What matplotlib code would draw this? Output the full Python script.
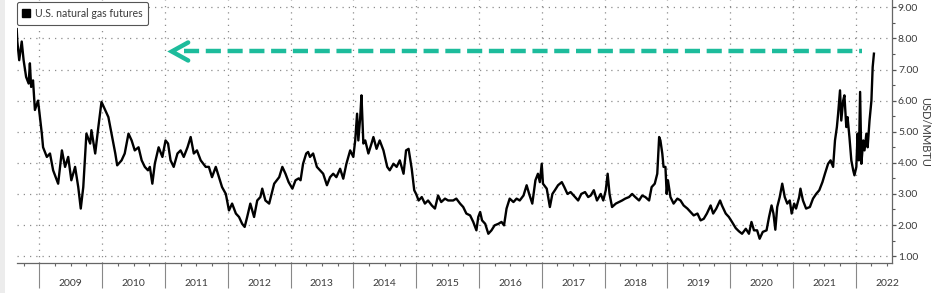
import matplotlib
matplotlib.use('Agg')
import matplotlib.pyplot as plt
import matplotlib.transforms as mtransforms
from matplotlib.lines import Line2D
from matplotlib.patches import Rectangle
from matplotlib.ticker import MultipleLocator, FixedLocator, FormatStrFormatter, NullFormatter

# ---- data (fractional year, USD/MMBtu) ----
dates = [
    2008.64, 2008.65, 2008.68, 2008.72, 2008.75, 2008.79, 2008.83, 2008.85, 2008.87, 2008.90,
    2008.93, 2008.98, 2009.01, 2009.04, 2009.06, 2009.12, 2009.17, 2009.22, 2009.30, 2009.36,
    2009.41, 2009.46, 2009.51, 2009.57, 2009.62, 2009.66, 2009.70, 2009.75, 2009.81, 2009.83,
    2009.89, 2009.94, 2009.99, 2010.05, 2010.10, 2010.15, 2010.21, 2010.24, 2010.31, 2010.36,
    2010.42, 2010.47, 2010.52, 2010.58, 2010.63, 2010.68, 2010.73, 2010.76, 2010.80, 2010.84,
    2010.90, 2010.96, 2011.01, 2011.05, 2011.09, 2011.14, 2011.20, 2011.25, 2011.30, 2011.36,
    2011.41, 2011.46, 2011.51, 2011.57, 2011.65, 2011.70, 2011.75, 2011.81, 2011.86, 2011.91,
    2011.97, 2012.02, 2012.07, 2012.13, 2012.18, 2012.23, 2012.27, 2012.31, 2012.36, 2012.42,
    2012.47, 2012.52, 2012.55, 2012.60, 2012.66, 2012.74, 2012.82, 2012.87, 2012.92, 2012.97,
    2013.03, 2013.08, 2013.13, 2013.16, 2013.20, 2013.25, 2013.28, 2013.31, 2013.36, 2013.42,
    2013.47, 2013.52, 2013.58, 2013.63, 2013.68, 2013.73, 2013.79, 2013.84, 2013.89, 2013.95,
    2014.00, 2014.03, 2014.06, 2014.08, 2014.11, 2014.13, 2014.16, 2014.19, 2014.24, 2014.29,
    2014.32, 2014.37, 2014.42, 2014.48, 2014.54, 2014.58, 2014.64, 2014.69, 2014.74, 2014.80,
    2014.84, 2014.88, 2014.90, 2014.93, 2014.97, 2015.00, 2015.04, 2015.09, 2015.14, 2015.19,
    2015.25, 2015.30, 2015.35, 2015.40, 2015.46, 2015.51, 2015.59, 2015.64, 2015.70, 2015.75,
    2015.80, 2015.86, 2015.91, 2015.96, 2015.99, 2016.02, 2016.05, 2016.10, 2016.15, 2016.20,
    2016.25, 2016.31, 2016.36, 2016.40, 2016.44, 2016.49, 2016.55, 2016.60, 2016.65, 2016.71,
    2016.76, 2016.80, 2016.85, 2016.90, 2016.94, 2016.97, 2017.00, 2017.02, 2017.08, 2017.13,
    2017.17, 2017.21, 2017.26, 2017.32, 2017.36, 2017.41, 2017.46, 2017.53, 2017.58, 2017.63,
    2017.69, 2017.74, 2017.78, 2017.83, 2017.88, 2017.94, 2017.98, 2018.02, 2018.05, 2018.08,
    2018.12, 2018.18, 2018.23, 2018.28, 2018.33, 2018.39, 2018.44, 2018.49, 2018.55, 2018.60,
    2018.65, 2018.71, 2018.75, 2018.80, 2018.84, 2018.87, 2018.89, 2018.92, 2018.94, 2018.97,
    2018.99, 2019.01, 2019.05, 2019.10, 2019.16, 2019.21, 2019.26, 2019.32, 2019.37, 2019.42,
    2019.48, 2019.53, 2019.58, 2019.63, 2019.69, 2019.73, 2019.78, 2019.84, 2019.87, 2019.93,
    2019.98, 2020.03, 2020.09, 2020.14, 2020.19, 2020.25, 2020.30, 2020.34, 2020.38, 2020.43,
    2020.47, 2020.52, 2020.58, 2020.62, 2020.66, 2020.69, 2020.72, 2020.75, 2020.79, 2020.83,
    2020.87, 2020.91, 2020.95, 2020.98, 2021.02, 2021.05, 2021.10, 2021.12, 2021.16, 2021.21,
    2021.27, 2021.32, 2021.37, 2021.42, 2021.47, 2021.51, 2021.56, 2021.60, 2021.64, 2021.67,
    2021.70, 2021.72, 2021.75, 2021.77, 2021.80, 2021.82, 2021.85, 2021.87, 2021.90, 2021.93,
    2021.96, 2021.98, 2022.01, 2022.03, 2022.05, 2022.07, 2022.09, 2022.12, 2022.14, 2022.17,
    2022.19, 2022.22, 2022.25, 2022.27, 2022.29,
]
prices = [
    8.30, 7.90, 7.30, 7.90, 7.30, 6.76, 6.55, 7.20, 6.44, 6.65,
    5.70, 6.00, 5.47, 4.94, 4.50, 4.19, 4.30, 3.76, 3.33, 4.40,
    3.87, 4.19, 3.44, 3.87, 3.22, 2.53, 3.22, 4.94, 4.62, 5.05,
    4.30, 5.15, 5.96, 5.69, 5.47, 4.94, 4.30, 3.92, 4.08, 4.30,
    4.94, 4.72, 4.40, 4.50, 4.08, 3.87, 3.76, 3.87, 3.33, 3.98,
    4.50, 4.19, 4.72, 4.62, 4.08, 3.87, 4.30, 4.40, 4.19, 4.50,
    4.83, 4.30, 4.40, 4.08, 3.87, 3.87, 3.54, 3.87, 3.54, 3.22,
    3.00, 2.47, 2.69, 2.37, 2.26, 2.04, 1.94, 2.26, 2.69, 2.26,
    2.79, 2.90, 3.17, 2.79, 2.69, 3.33, 3.54, 3.87, 3.65, 3.38,
    3.17, 3.44, 3.50, 3.44, 3.97, 4.30, 4.35, 4.19, 4.30, 3.87,
    3.76, 3.65, 3.28, 3.54, 3.65, 3.54, 3.81, 3.49, 3.97, 4.40,
    4.19, 4.72, 5.58, 4.72, 5.47, 6.17, 4.62, 4.72, 4.30, 4.62,
    4.83, 4.45, 4.72, 4.40, 3.87, 3.76, 3.97, 3.87, 4.08, 3.65,
    4.40, 4.45, 4.19, 3.81, 3.12, 3.00, 2.79, 2.90, 2.69, 2.79,
    2.63, 2.53, 2.95, 2.74, 2.85, 2.79, 2.79, 2.85, 2.69, 2.58,
    2.37, 2.31, 2.10, 1.83, 2.26, 2.42, 2.15, 2.04, 1.72, 1.83,
    1.99, 2.04, 2.10, 1.99, 2.53, 2.85, 2.74, 2.85, 2.79, 2.95,
    3.28, 3.00, 2.69, 3.44, 3.65, 3.38, 3.97, 3.33, 3.17, 2.58,
    3.00, 3.12, 3.28, 3.38, 3.22, 3.00, 3.06, 2.90, 2.79, 3.00,
    3.06, 2.90, 2.95, 3.12, 2.79, 3.00, 2.79, 3.12, 3.65, 3.00,
    2.58, 2.69, 2.74, 2.79, 2.85, 2.90, 3.00, 2.90, 2.79, 2.95,
    2.90, 2.79, 3.22, 3.33, 3.65, 4.83, 4.72, 4.30, 3.87, 3.87,
    3.00, 3.44, 2.90, 2.69, 2.85, 2.79, 2.63, 2.53, 2.42, 2.31,
    2.37, 2.15, 2.20, 2.37, 2.63, 2.37, 2.53, 2.79, 2.63, 2.37,
    2.26, 2.10, 1.90, 1.80, 1.72, 1.88, 1.72, 2.10, 1.83, 1.83,
    1.56, 1.78, 1.83, 2.26, 2.63, 2.37, 1.85, 2.58, 2.90, 3.33,
    2.90, 2.69, 2.79, 2.37, 2.69, 2.53, 2.90, 3.17, 2.79, 2.53,
    2.58, 2.85, 3.00, 3.12, 3.38, 3.65, 3.97, 4.08, 3.87, 4.72,
    5.15, 5.58, 6.33, 5.36, 6.00, 6.17, 5.15, 5.47, 4.83, 4.08,
    3.76, 3.60, 3.87, 4.94, 4.08, 6.28, 3.97, 4.72, 4.40, 4.94,
    4.50, 5.36, 6.00, 7.08, 7.51,
]
assert len(dates) == len(prices)

year_labels = [str(y) for y in range(2009, 2023)]
y_ticks = [1, 2, 3, 4, 5, 6, 7, 8, 9]
series_name = 'U.S. natural gas futures'
unit_label = 'USD/MMBTU'
arrow_level = 7.58      # level marked by the dashed arrow
arrow_tail = 2022.10
arrow_tip = 2011.11

# ---- figure ----
W, H = 943, 293
fig = plt.figure(figsize=(W / 100, H / 100), dpi=100)
fig.patch.set_facecolor('white')
fig.add_artist(Rectangle((0, 0), 5 / W, 1, transform=fig.transFigure,
                         facecolor='#ececec', edgecolor='none', zorder=0))

ax_l, ax_r, ax_b, ax_t = 16.7, 891.7, 263, 0
ax = fig.add_axes([ax_l / W, 1 - ax_b / H, (ax_r - ax_l) / W, (ax_b - ax_t) / H])
ax.set_xlim(2008.64, 2022.573)
ax.set_ylim(0.78, 9.235)

FONT = 'Lato'
TXT = '#3a3a3a'

# grid
ax.set_axisbelow(True)
ax.xaxis.set_major_locator(FixedLocator(list(range(2009, 2023))))
ax.xaxis.set_minor_locator(MultipleLocator(0.25))
ax.xaxis.set_major_formatter(NullFormatter())
ax.yaxis.set_major_locator(FixedLocator(y_ticks))
ax.yaxis.set_minor_locator(MultipleLocator(0.5))
ax.yaxis.set_major_formatter(FormatStrFormatter('%.2f'))
ax.grid(True, which='major', color='#8c8c8c', linestyle=(0, (1, 4)), linewidth=0.9)

# series
line, = ax.plot(dates, prices, color='black', linewidth=1.7, solid_joinstyle='round',
                label=series_name, zorder=3)

# dashed arrow
teal = '#1dbc9c'
ax.plot([arrow_tip + 0.2, arrow_tail], [arrow_level, arrow_level], color=teal,
        linewidth=3.2, dashes=(3.4, 1.5), dash_capstyle='butt', zorder=4)
ax.plot([arrow_tip + 0.26, arrow_tip, arrow_tip + 0.26],
        [arrow_level + 0.29, arrow_level, arrow_level - 0.29],
        color=teal, linewidth=3.2, solid_capstyle='round', solid_joinstyle='miter', zorder=4)

# spines
for s in ['top', 'left']:
    ax.spines[s].set_visible(False)
ax.spines['right'].set_color('#666666')
ax.spines['bottom'].set_color('#666666')
ax.spines['right'].set_linewidth(0.9)
ax.spines['bottom'].set_linewidth(0.9)

# y axis on right
ax.yaxis.tick_right()
ax.tick_params(axis='y', which='major', direction='out', length=3, width=0.9,
               color='#555555', pad=1.5, labelsize=7.5, labelcolor=TXT)
ax.tick_params(axis='y', which='minor', direction='out', length=2, width=0.8, color='#555555')
for lab in ax.get_yticklabels():
    lab.set_fontfamily(FONT)
ax.set_ylabel(unit_label, rotation=270, fontsize=8, color=TXT, family=FONT, va='center')
ax.yaxis.set_label_position('right')
ax.yaxis.set_label_coords((930 - ax_l) / (ax_r - ax_l), 0.5)

# x axis: long year-boundary ticks, quarterly minor ticks, labels mid-year
ax.tick_params(axis='x', which='major', direction='out', length=18, width=0.8,
               color='#888888')
ax.tick_params(axis='x', which='minor', direction='out', length=2.2, width=0.8,
               color='#666666')
trans = mtransforms.blended_transform_factory(ax.transData, fig.transFigure)
for lab in year_labels:
    ax.text(int(lab) + 0.5, 10 / H, lab, transform=trans, ha='center', va='center',
            fontsize=7.5, color=TXT, family=FONT, clip_on=False)

# legend
handle = Line2D([], [], marker='s', color='black', linestyle='none', markersize=6)
leg = ax.legend([handle], [series_name], loc='upper left', bbox_to_anchor=(0.0, 0.992),
                frameon=True, fancybox=True, edgecolor='#555555', framealpha=1,
                prop={'family': FONT, 'size': 7.6}, handlelength=0.7, handletextpad=0.45,
                borderpad=0.55, borderaxespad=0.0)
leg.get_frame().set_linewidth(0.8)
for t in leg.get_texts():
    t.set_color(TXT)

fig.savefig('out.png', dpi=100, facecolor='white')
